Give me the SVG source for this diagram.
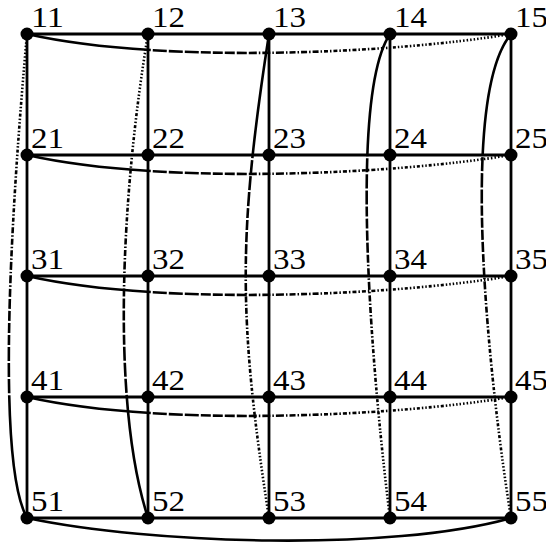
<svg xmlns="http://www.w3.org/2000/svg" width="546" height="544" viewBox="0 0 546 544">
<style>
.grid{stroke:#000;stroke-width:2.8;fill:none}
.crv{stroke:#000;stroke-width:2.6;fill:none;stroke-dasharray:125 2 14 2 14 2 14 2 10 2 10 2 10 2 10 2 8 2 1.5 2 8 2 1.5 2 8 2 1.5 2 6 2 1.5 2 6 2 1.5 2 6 2 1.5 2 4 2 1.5 2 4 2 1.5 2 4 2 1.5 2 4 2 1.5 2 4 2 1.5 2 4 2 1.5 2 3 2 1.5 2 1.5 2 3 2 1.5 2 1.5 2 3 2 1.5 2 1.5 2 3 2 1.5 2 1.5 2 3 2 1.5 2 1.5 2 3 2 1.5 2 1.5 2 1.5 2 1.5 2 1.5 2 1.5 2 1.5 2 1.5 2 1.5 2 1.5 2 1.5 2 1.5 2 1.5 2 1.5 2 1.5 2 1.5 2 1.5 2 1.5 2 1.5 2 1.5 40}
.solid{stroke:#000;stroke-width:2.6;fill:none}
.dot{fill:#000}
.lbl{font-family:"Liberation Serif","Times New Roman",serif;font-size:29px;fill:#000}
</style>
<g id="connectors">
<path class="grid" d="M27,34H511M27,155H511M27,276H511M27,397H511M27,518H511"/>
<path class="grid" d="M27,34V518M148,34V518M269,34V518M390,34V518M511,34V518"/>
<path class="crv" pathLength="486" d="M27,34C160,64 390,54 511,34"/>
<path class="crv" pathLength="486" d="M27,155C160,185 390,175 511,155"/>
<path class="crv" pathLength="486" d="M27,276C160,306 390,296 511,276"/>
<path class="crv" pathLength="486" d="M27,397C160,427 390,417 511,397"/>
<path class="solid" d="M27,518C150,544 390,552 511,518"/>
<path class="crv" pathLength="486" d="M27,518C-5,460 12,200 27,34"/>
<path class="crv" pathLength="486" d="M148,518C110,400 122,190 148,34"/>
<path class="crv" pathLength="486" d="M269,34C238,234 238,318 269,518"/>
<path class="crv" pathLength="486" d="M390,34C346,100 375,400 390,518"/>
<path class="crv" pathLength="486" d="M511,34C456,100 492,400 511,518"/>
</g>
<g id="n11"><circle class="dot" cx="27" cy="34" r="6.5"/><text class="lbl" x="31" y="26.5" textLength="33" lengthAdjust="spacingAndGlyphs">11</text></g>
<g id="n12"><circle class="dot" cx="148" cy="34" r="6.5"/><text class="lbl" x="152" y="26.5" textLength="33" lengthAdjust="spacingAndGlyphs">12</text></g>
<g id="n13"><circle class="dot" cx="269" cy="34" r="6.5"/><text class="lbl" x="273" y="26.5" textLength="33" lengthAdjust="spacingAndGlyphs">13</text></g>
<g id="n14"><circle class="dot" cx="390" cy="34" r="6.5"/><text class="lbl" x="394" y="26.5" textLength="33" lengthAdjust="spacingAndGlyphs">14</text></g>
<g id="n15"><circle class="dot" cx="511" cy="34" r="6.5"/><text class="lbl" x="515" y="26.5" textLength="33" lengthAdjust="spacingAndGlyphs">15</text></g>
<g id="n21"><circle class="dot" cx="27" cy="155" r="6.5"/><text class="lbl" x="31" y="147.5" textLength="33" lengthAdjust="spacingAndGlyphs">21</text></g>
<g id="n22"><circle class="dot" cx="148" cy="155" r="6.5"/><text class="lbl" x="152" y="147.5" textLength="33" lengthAdjust="spacingAndGlyphs">22</text></g>
<g id="n23"><circle class="dot" cx="269" cy="155" r="6.5"/><text class="lbl" x="273" y="147.5" textLength="33" lengthAdjust="spacingAndGlyphs">23</text></g>
<g id="n24"><circle class="dot" cx="390" cy="155" r="6.5"/><text class="lbl" x="394" y="147.5" textLength="33" lengthAdjust="spacingAndGlyphs">24</text></g>
<g id="n25"><circle class="dot" cx="511" cy="155" r="6.5"/><text class="lbl" x="515" y="147.5" textLength="33" lengthAdjust="spacingAndGlyphs">25</text></g>
<g id="n31"><circle class="dot" cx="27" cy="276" r="6.5"/><text class="lbl" x="31" y="268.5" textLength="33" lengthAdjust="spacingAndGlyphs">31</text></g>
<g id="n32"><circle class="dot" cx="148" cy="276" r="6.5"/><text class="lbl" x="152" y="268.5" textLength="33" lengthAdjust="spacingAndGlyphs">32</text></g>
<g id="n33"><circle class="dot" cx="269" cy="276" r="6.5"/><text class="lbl" x="273" y="268.5" textLength="33" lengthAdjust="spacingAndGlyphs">33</text></g>
<g id="n34"><circle class="dot" cx="390" cy="276" r="6.5"/><text class="lbl" x="394" y="268.5" textLength="33" lengthAdjust="spacingAndGlyphs">34</text></g>
<g id="n35"><circle class="dot" cx="511" cy="276" r="6.5"/><text class="lbl" x="515" y="268.5" textLength="33" lengthAdjust="spacingAndGlyphs">35</text></g>
<g id="n41"><circle class="dot" cx="27" cy="397" r="6.5"/><text class="lbl" x="31" y="389.5" textLength="33" lengthAdjust="spacingAndGlyphs">41</text></g>
<g id="n42"><circle class="dot" cx="148" cy="397" r="6.5"/><text class="lbl" x="152" y="389.5" textLength="33" lengthAdjust="spacingAndGlyphs">42</text></g>
<g id="n43"><circle class="dot" cx="269" cy="397" r="6.5"/><text class="lbl" x="273" y="389.5" textLength="33" lengthAdjust="spacingAndGlyphs">43</text></g>
<g id="n44"><circle class="dot" cx="390" cy="397" r="6.5"/><text class="lbl" x="394" y="389.5" textLength="33" lengthAdjust="spacingAndGlyphs">44</text></g>
<g id="n45"><circle class="dot" cx="511" cy="397" r="6.5"/><text class="lbl" x="515" y="389.5" textLength="33" lengthAdjust="spacingAndGlyphs">45</text></g>
<g id="n51"><circle class="dot" cx="27" cy="518" r="6.5"/><text class="lbl" x="31" y="510.5" textLength="33" lengthAdjust="spacingAndGlyphs">51</text></g>
<g id="n52"><circle class="dot" cx="148" cy="518" r="6.5"/><text class="lbl" x="152" y="510.5" textLength="33" lengthAdjust="spacingAndGlyphs">52</text></g>
<g id="n53"><circle class="dot" cx="269" cy="518" r="6.5"/><text class="lbl" x="273" y="510.5" textLength="33" lengthAdjust="spacingAndGlyphs">53</text></g>
<g id="n54"><circle class="dot" cx="390" cy="518" r="6.5"/><text class="lbl" x="394" y="510.5" textLength="33" lengthAdjust="spacingAndGlyphs">54</text></g>
<g id="n55"><circle class="dot" cx="511" cy="518" r="6.5"/><text class="lbl" x="515" y="510.5" textLength="33" lengthAdjust="spacingAndGlyphs">55</text></g>
</svg>
